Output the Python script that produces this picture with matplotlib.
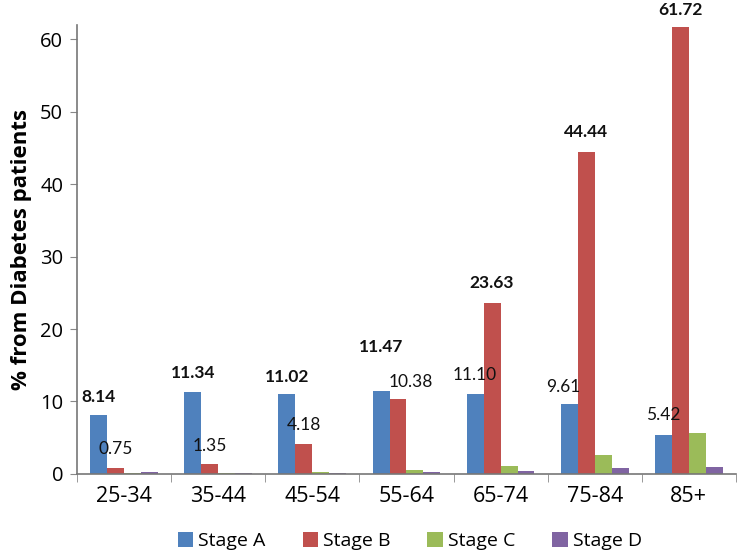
import numpy as np
import matplotlib.pyplot as plt

# data
age_groups = ["25-34", "35-44", "45-54", "55-64", "65-74", "75-84", "85+"]
stage_names = ["Stage A", "Stage B", "Stage C", "Stage D"]
stage_a = [8.14, 11.34, 11.02, 11.47, 11.10, 9.61, 5.42]
stage_b = [0.75, 1.35, 4.18, 10.38, 23.63, 44.44, 61.72]
stage_c = [0.12, 0.15, 0.25, 0.5, 1.05, 2.6, 5.7]
stage_d = [0.3, 0.15, 0.15, 0.2, 0.37, 0.8, 0.95]

# labelled values (stage A and B only), with weight as in the original
a_bold = [True, True, True, True, False, False, False]
b_bold = [False, False, False, False, True, True, True]

# label placement tweaks (dx in category units, dy in data units)
a_dx = [0, 0, 0, 0, 0, -0.06, 0]
a_dy = [2.5, 2.6, 2.4, 6.0, 2.6, 2.4, 2.7]
b_dx = [0, 0, 0, 0.14, 0, 0, 0]
b_dy = [2.65, 2.55, 2.6, 2.3, 2.7, 2.8, 2.35]

colors = ["#4F81BD", "#C0504D", "#9BBB59", "#8064A2"]

plt.rcParams['font.family'] = ['Open Sans', 'DejaVu Sans']

fig = plt.figure(figsize=(7.37, 5.53), dpi=100)
ax = fig.add_axes([0.1045, 0.143, 0.894, 0.812])

x = np.arange(len(age_groups))
w = 0.18
series = [stage_a, stage_b, stage_c, stage_d]
for k, vals in enumerate(series):
    ax.bar(x + (k - 1.5) * w, vals, width=w, color=colors[k], label=stage_names[k],
           edgecolor="none", zorder=2)

for i in range(len(age_groups)):
    ax.text(x[i] - 1.5 * w + a_dx[i], stage_a[i] + a_dy[i], f"{stage_a[i]:.2f}",
            ha="center", va="center", fontsize=12.5, family=["Lato", "DejaVu Sans"],
            fontweight="bold" if a_bold[i] else "normal", color="#111111")
    ax.text(x[i] - 0.5 * w + b_dx[i], stage_b[i] + b_dy[i], f"{stage_b[i]:.2f}",
            ha="center", va="center", fontsize=12.5, family=["Lato", "DejaVu Sans"],
            fontweight="bold" if b_bold[i] else "normal", color="#111111")

ax.set_xlim(-0.5, len(age_groups) - 0.5)
ax.set_ylim(0, 62)
ax.set_yticks([0, 10, 20, 30, 40, 50, 60])
ax.tick_params(axis="y", labelsize=14.5, length=5, color="#888888", pad=5)

ax.set_xticks(x)
ax.set_xticklabels(age_groups, fontsize=15.5)
ax.tick_params(axis="x", length=0, pad=9)
ax.set_xticks(np.arange(-0.5, len(age_groups)), minor=True)
ax.tick_params(axis="x", which="minor", length=6, color="#888888")

for s in ["top", "right"]:
    ax.spines[s].set_visible(False)
for s in ["left", "bottom"]:
    ax.spines[s].set_color("#777777")
    ax.spines[s].set_linewidth(1.2)

ax.set_ylabel("% from Diabetes patients", fontsize=16, fontweight="bold", labelpad=6)

ax.legend(loc="upper center", bbox_to_anchor=(0.505, -0.09), ncol=4, frameon=False,
          fontsize=14, handlelength=0.8, handleheight=0.8, handletextpad=0.25,
          columnspacing=1.9)

fig.savefig("out.png", dpi=100)
